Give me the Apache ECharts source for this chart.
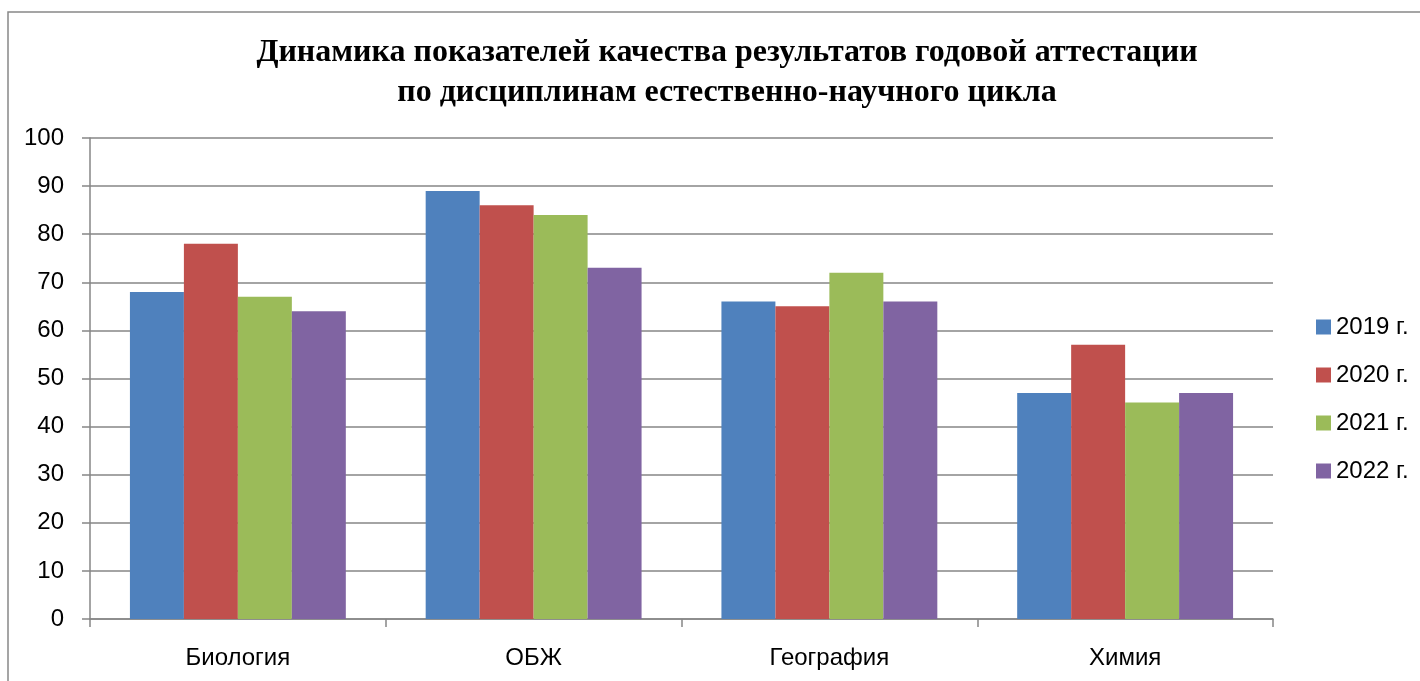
<!DOCTYPE html>
<html>
<head>
<meta charset="utf-8">
<script src="https://cdn.jsdelivr.net/npm/echarts@6/dist/echarts.min.js"></script>
<style>
html,body{margin:0;padding:0;background:#fff;}
#c{width:1420px;height:681px;}
</style>
</head>
<body>
<div id="c"></div>
<script>
const categories = ['Биология', 'ОБЖ', 'География', 'Химия'];
const seriesNames = ['2019 г.', '2020 г.', '2021 г.', '2022 г.'];
const v2019 = [68, 89, 66, 47];
const v2020 = [78, 86, 65, 57];
const v2021 = [67, 84, 72, 45];
const v2022 = [64, 73, 66, 47];
const titleLines = ['Динамика показателей качества результатов годовой аттестации', 'по дисциплинам естественно-научного цикла'];
const colors = ['#4F81BD', '#C0504D', '#9BBB59', '#8064A2'];

const values = [v2019, v2020, v2021, v2022];
const chart = echarts.init(document.getElementById('c'), null, {renderer: 'canvas'});
const font = '"Liberation Sans", Arial, sans-serif';
chart.setOption({
  animation: false,
  color: colors,
  title: {
    text: titleLines.join('\n'),
    left: 722,
    textAlign: 'center',
    top: 28,
    textStyle: {
      fontFamily: '"Liberation Serif", "Times New Roman", serif',
      fontWeight: 'bold',
      fontSize: 32,
      lineHeight: 40,
      color: '#000'
    }
  },
  graphic: [{
    type: 'rect',
    shape: {x: 8, y: 12, width: 1430, height: 690},
    style: {fill: 'none', stroke: '#888888', lineWidth: 1.5},
    silent: true
  }],
  legend: {
    orient: 'vertical',
    left: 1311,
    top: 310,
    itemWidth: 15,
    itemHeight: 15,
    itemGap: 24,
    icon: 'rect',
    textStyle: {fontFamily: font, fontSize: 24, lineHeight: 24, color: '#000'},
    data: seriesNames
  },
  grid: {left: 90, right: 147, top: 138, bottom: 62},
  xAxis: {
    type: 'category',
    data: categories,
    axisLine: {lineStyle: {color: '#868686', width: 1.5}},
    axisTick: {show: true, length: 8, lineStyle: {color: '#868686', width: 1.5}},
    axisLabel: {fontFamily: font, fontSize: 24, color: '#000', margin: 27}
  },
  yAxis: {
    type: 'value',
    min: 0, max: 100, interval: 10,
    axisLine: {show: true, lineStyle: {color: '#868686', width: 1.5}},
    axisTick: {show: true, length: 8, lineStyle: {color: '#868686', width: 1.5}},
    splitLine: {lineStyle: {color: '#868686', width: 1.5}},
    axisLabel: {fontFamily: font, fontSize: 24, color: '#000', margin: 26}
  },
  series: seriesNames.map((n, i) => ({
    name: n,
    type: 'bar',
    data: values[i],
    barGap: '0%',
    barCategoryGap: '27%',
    itemStyle: {color: colors[i]}
  }))
});
</script>
</body>
</html>
